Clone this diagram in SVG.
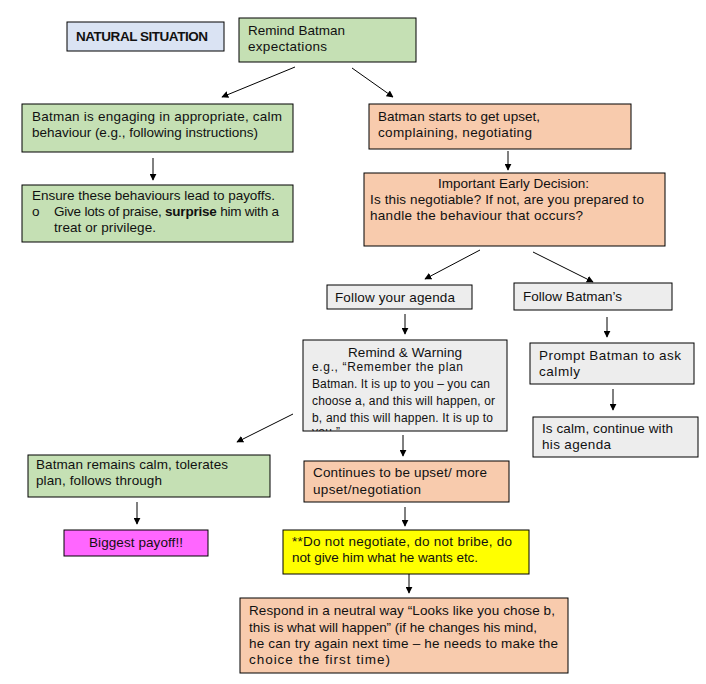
<svg xmlns="http://www.w3.org/2000/svg" width="706" height="684" viewBox="0 0 706 684">
<style>
.box{stroke:#000;stroke-width:1}
.g{fill:#c5e0b4}.o{fill:#f8cbad}.gr{fill:#ededed}.b{fill:#dae3f3}.y{fill:#ffff00}.m{fill:#ff66ff}
text{font-family:"Liberation Sans",Arial,sans-serif;font-size:13.5px;fill:#111}
.sm{font-size:12px}
.c{stroke:#000;stroke-width:1;fill:none;marker-end:url(#ah)}
</style>
<defs>
<marker id="ah" viewBox="0 0 10 10" refX="9" refY="5" markerWidth="7" markerHeight="7" markerUnits="userSpaceOnUse" orient="auto">
<path d="M0,0 L10,5 L0,10 z" fill="#000"/>
</marker>
<clipPath id="rwclip"><rect x="303" y="340" width="204" height="91"/></clipPath>
</defs>
<rect width="706" height="684" fill="#fff"/>

<g id="connectors">
<line class="c" x1="295" y1="67" x2="222" y2="97"/>
<line class="c" x1="352" y1="68" x2="393" y2="97"/>
<line class="c" x1="153" y1="158" x2="153" y2="180"/>
<line class="c" x1="508" y1="151" x2="508" y2="170"/>
<line class="c" x1="480" y1="250" x2="425" y2="279"/>
<line class="c" x1="533" y1="252" x2="593" y2="282"/>
<line class="c" x1="405" y1="314" x2="405" y2="334"/>
<line class="c" x1="607" y1="317" x2="607" y2="337"/>
<line class="c" x1="613" y1="389" x2="613" y2="410"/>
<line class="c" x1="293" y1="414" x2="237" y2="442"/>
<line class="c" x1="403" y1="435" x2="403" y2="456"/>
<line class="c" x1="137" y1="502" x2="137" y2="524"/>
<line class="c" x1="405" y1="507" x2="405" y2="526"/>
<line class="c" x1="409" y1="574" x2="409" y2="593"/>
</g>

<g id="natural-situation">
<rect class="box b" x="67" y="22" width="157" height="29"/>
<text x="76" y="41" font-weight="bold" font-size="13" textLength="132">NATURAL SITUATION</text>
</g>

<g id="remind-expectations">
<rect class="box g" x="239" y="18" width="177" height="44"/>
<text x="248" y="35" textLength="97">Remind Batman</text>
<text x="248" y="51" textLength="79">expectations</text>
</g>

<g id="calm-behaviour">
<rect class="box g" x="22" y="104" width="271" height="48"/>
<text x="32" y="121" textLength="250">Batman is engaging in appropriate, calm</text>
<text x="32" y="137" textLength="226">behaviour (e.g., following instructions)</text>
</g>

<g id="ensure-payoffs">
<rect class="box g" x="22" y="185" width="271" height="57"/>
<text x="32" y="200" textLength="243">Ensure these behaviours lead to payoffs.</text>
<text x="32" y="216">o</text>
<text x="54" y="216" textLength="225">Give lots of praise, <tspan font-weight="bold">surprise</tspan> him with a</text>
<text x="54" y="232" textLength="102">treat or privilege.</text>
</g>

<g id="starts-upset">
<rect class="box o" x="369" y="104" width="262" height="45"/>
<text x="378" y="121" textLength="162">Batman starts to get upset,</text>
<text x="378" y="137" textLength="154">complaining, negotiating</text>
</g>

<g id="early-decision">
<rect class="box o" x="364" y="173" width="301" height="73"/>
<text x="438" y="188" textLength="151">Important Early Decision:</text>
<text x="370" y="204" textLength="274">Is this negotiable? If not, are you prepared to</text>
<text x="370" y="220" textLength="213">handle the behaviour that occurs?</text>
</g>

<g id="follow-your-agenda">
<rect class="box gr" x="327" y="285" width="145" height="24"/>
<text x="335" y="302" textLength="120">Follow your agenda</text>
</g>

<g id="follow-batmans">
<rect class="box gr" x="514" y="283" width="158" height="27"/>
<text x="523" y="301" textLength="99">Follow Batman’s</text>
</g>

<g id="remind-warning">
<rect class="box gr" x="303" y="340" width="204" height="91"/>
<g clip-path="url(#rwclip)">
<text x="348" y="357" textLength="114">Remind &amp; Warning</text>
<text class="sm" x="312" y="371" textLength="151">e.g., “Remember the plan</text>
<text class="sm" x="312" y="388" textLength="178">Batman. It is up to you – you can</text>
<text class="sm" x="312" y="405" textLength="183">choose a, and this will happen, or</text>
<text class="sm" x="312" y="422" textLength="181">b, and this will happen. It is up to</text>
<text class="sm" x="312" y="436" textLength="28">you.”</text>
</g>
</g>

<g id="prompt-ask">
<rect class="box gr" x="530" y="343" width="164" height="41"/>
<text x="539" y="360" textLength="142">Prompt Batman to ask</text>
<text x="539" y="376" textLength="41">calmly</text>
</g>

<g id="is-calm">
<rect class="box gr" x="533" y="417" width="165" height="40"/>
<text x="542" y="433" textLength="131">Is calm, continue with</text>
<text x="542" y="449" textLength="69">his agenda</text>
</g>

<g id="remains-calm">
<rect class="box g" x="28" y="455" width="242" height="42"/>
<text x="36" y="469" textLength="192">Batman remains calm, tolerates</text>
<text x="36" y="485" textLength="126">plan, follows through</text>
</g>

<g id="biggest-payoff">
<rect class="box m" x="64" y="530" width="144" height="26"/>
<text x="89" y="547" textLength="94">Biggest payoff!!</text>
</g>

<g id="continues-upset">
<rect class="box o" x="304" y="461" width="205" height="41"/>
<text x="313" y="477" textLength="174">Continues to be upset/ more</text>
<text x="313" y="494" textLength="108">upset/negotiation</text>
</g>

<g id="do-not-negotiate">
<rect class="box y" x="283" y="530" width="246" height="44"/>
<text x="292" y="546" textLength="220">**Do not negotiate, do not bribe, do</text>
<text x="292" y="562" textLength="186">not give him what he wants etc.</text>
</g>

<g id="respond-neutral">
<rect class="box o" x="240" y="598" width="328" height="75"/>
<text x="249" y="615" textLength="306">Respond in a neutral way “Looks like you chose b,</text>
<text x="249" y="632" textLength="288">this is what will happen” (if he changes his mind,</text>
<text x="249" y="648" textLength="309">he can try again next time – he needs to make the</text>
<text x="249" y="664" textLength="141">choice the first time)</text>
</g>
</svg>
